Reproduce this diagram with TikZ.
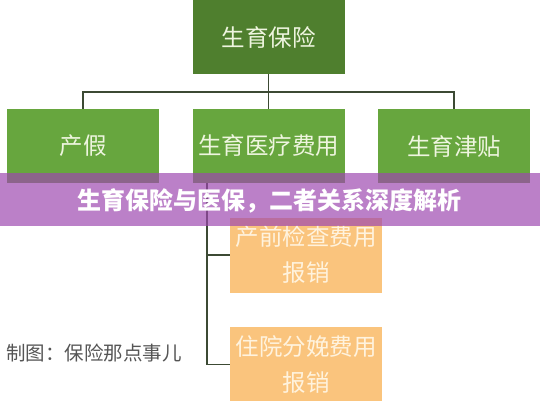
\documentclass[tikz,border=0pt]{standalone}
\usepackage{fontspec}
\newfontfamily\cjk{Noto Sans CJK SC}
\definecolor{topgreen}{HTML}{4F7F2E}
\definecolor{rowgreen}{HTML}{67A63E}
\definecolor{greentext}{HTML}{EEF5DF}
\definecolor{orangebox}{HTML}{FAC47D}
\definecolor{orangetext}{HTML}{FFF3DE}
\definecolor{banner}{RGB}{157,71,175}
\definecolor{linecol}{HTML}{3C4A34}
\definecolor{captioncol}{HTML}{555555}
\tikzset{
  greenbox/.style={fill=rowgreen, text=greentext, minimum width=152pt, minimum height=74pt, inner sep=0pt, font=\cjk\fontsize{23.5}{28}\selectfont},
  topbox/.style={greenbox, fill=topgreen},
  orangebox/.style={fill=orangebox, text=orangetext, minimum width=152pt, minimum height=75pt, inner sep=0pt, align=center, font=\cjk\fontsize{23.5}{36}\selectfont},
  conn/.style={draw=linecol, line width=1.3pt},
}
\begin{document}
\begin{tikzpicture}[x=1pt,y=-1pt]
\useasboundingbox (0,0) rectangle (540,400);
\begin{scope}
\clip (0,0) rectangle (540,400);
% boxes
\node[topbox] (top) at (268.5,37) {生育保险};
\node[greenbox] (left) at (83,146) {产假};
\node[greenbox] (mid) at (268.5,146) {生育医疗费用};
\node[greenbox] (right) at (454,146) {生育津贴};
\node[orangebox] (o1) at (306,255) {产前检查费用\\报销};
\node[orangebox] (o2) at (306,364.5) {住院分娩费用\\报销};
% connectors
\coordinate (bar) at (268.5,92);
\coordinate (trunk) at (207,183);
\draw[conn] (top.south) -- (bar);
\draw[conn] (left.north) |- (bar) -| (right.north);
\draw[conn] (bar) -- (mid.north);
\draw[conn] (trunk) |- (o1.west);
\draw[conn] (trunk) |- (o2.west);
% caption
\node[text=captioncol, font=\cjk\fontsize{19.5}{24}\selectfont, anchor=west, inner sep=0pt] (cap) at (6,353) {制图：保险那点事儿};
% banner
\fill[banner, fill opacity=0.69] (0,173) rectangle (540,226);
\node[text=white, font=\cjk\bfseries\fontsize{24}{28}\selectfont, inner sep=0pt] (title) at (269,201) {生育保险与医保，二者关系深度解析};
\end{scope}
\end{tikzpicture}
\end{document}
